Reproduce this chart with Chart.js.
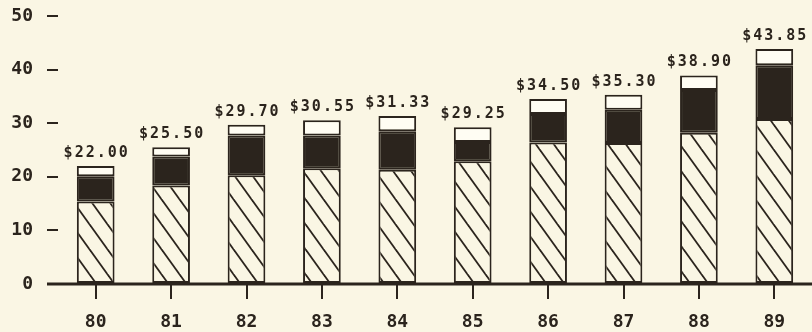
<!DOCTYPE html>
<html>
<head>
<meta charset="utf-8">
<script src="https://cdn.jsdelivr.net/npm/chart.js@4.4.1/dist/chart.umd.min.js"></script>
<style>
  html, body { margin: 0; padding: 0; background: #faf6e4; }
  #wrap { width: 812px; height: 332px; position: relative; }
</style>
</head>
<body>
<div id="wrap"><canvas id="chart"></canvas></div>
<script>
// values
const years = ['80', '81', '82', '83', '84', '85', '86', '87', '88', '89'];
const hatched = [15.4, 18.4, 20.3, 21.6, 21.3, 22.9, 26.4, 26.3, 28.2, 30.8];
const black = [4.7, 5.4, 7.4, 6.1, 7.2, 3.6, 5.3, 6.2, 8.0, 10.0];
const totals = [22.00, 25.50, 29.70, 30.55, 31.33, 29.25, 34.50, 35.30, 38.90, 43.85];
const yTicks = [0, 10, 20, 30, 40, 50];

// the white top piece is whatever is left of the total
const white = totals.map((t, i) => +(t - hatched[i] - black[i]).toFixed(2));

const ink = '#2b241d';
const paper = '#faf6e4';

// diagonal "\" hatch
function makeHatch() {
    const w = 18, h = 25;
    const c = document.createElement('canvas');
    c.width = w; c.height = h;
    const g = c.getContext('2d');
    g.fillStyle = paper;
    g.fillRect(0, 0, w, h);
    g.strokeStyle = ink;
    g.lineWidth = 1.8;
    for (const off of [-w, 0, w]) {
        g.beginPath();
        g.moveTo(off - 2, -2 * h / w);
        g.lineTo(off + w + 2, h + 2 * h / w);
        g.stroke();
    }
    return document.getElementById('chart').getContext('2d').createPattern(c, 'repeat');
}

const totalLabels = {
    id: 'totalLabels',
    afterDatasetsDraw(chart) {
        const ctx = chart.ctx;
        const x = chart.scales.x, y = chart.scales.y;
        ctx.save();
        ctx.fillStyle = ink;
        ctx.font = 'bold 15px "DejaVu Sans Mono"';
        ctx.letterSpacing = '2px';
        ctx.textAlign = 'center';
        ctx.textBaseline = 'alphabetic';
        totals.forEach((t, i) => {
            ctx.fillText('$' + t.toFixed(2), x.getPixelForValue(i) + 1, y.getPixelForValue(t) - 9);
        });
        ctx.restore();
    }
};

// base line runs a bit past the plot on the left
const baseLine = {
    id: 'baseLine',
    afterDatasetsDraw(chart) {
        const ctx = chart.ctx;
        const a = chart.chartArea;
        const y0 = chart.scales.y.getPixelForValue(0);
        ctx.save();
        ctx.strokeStyle = ink;
        ctx.lineWidth = 3;
        ctx.beginPath();
        ctx.moveTo(a.left - 11, y0);
        ctx.lineTo(a.right, y0);
        ctx.stroke();
        ctx.restore();
    }
};

const bar = (data, fill) => ({
    data,
    backgroundColor: fill,
    borderColor: ink,
    borderWidth: 2,
    borderSkipped: false,
    barPercentage: 0.5,
    categoryPercentage: 1
});

new Chart(document.getElementById('chart'), {
    type: 'bar',
    data: {
        labels: years,
        datasets: [
            bar(hatched, makeHatch()),
            bar(black, ink),
            bar(white, '#fffdf3')
        ]
    },
    options: {
        responsive: true,
        maintainAspectRatio: false,
        animation: false,
        layout: { padding: { top: 16, right: 0, left: 0, bottom: 0 } },
        plugins: { legend: { display: false }, tooltip: { enabled: false } },
        scales: {
            x: {
                stacked: true,
                afterFit: s => { s.height = 48; s.paddingLeft = 0; s.paddingRight = 0; },
                border: { display: false },
                grid: { offset: false, drawOnChartArea: false, drawTicks: true, tickLength: 15, lineWidth: 2, color: ink },
                ticks: { color: ink, padding: 13, font: { family: 'DejaVu Sans Mono', size: 18, weight: 'bold' } }
            },
            y: {
                stacked: true,
                min: 0,
                max: 50,
                afterFit: s => { s.width = 58; s.paddingTop = 0; s.paddingBottom = 0; },
                afterBuildTicks: s => { s.ticks = yTicks.map(v => ({ value: v })); },
                border: { display: false },
                grid: { drawOnChartArea: false, drawTicks: true, tickLength: 11, lineWidth: 2, color: ink },
                ticks: { color: ink, padding: 14, font: { family: 'DejaVu Sans Mono', size: 18, weight: 'bold' } }
            }
        }
    },
    plugins: [totalLabels, baseLine]
});
</script>
</body>
</html>
